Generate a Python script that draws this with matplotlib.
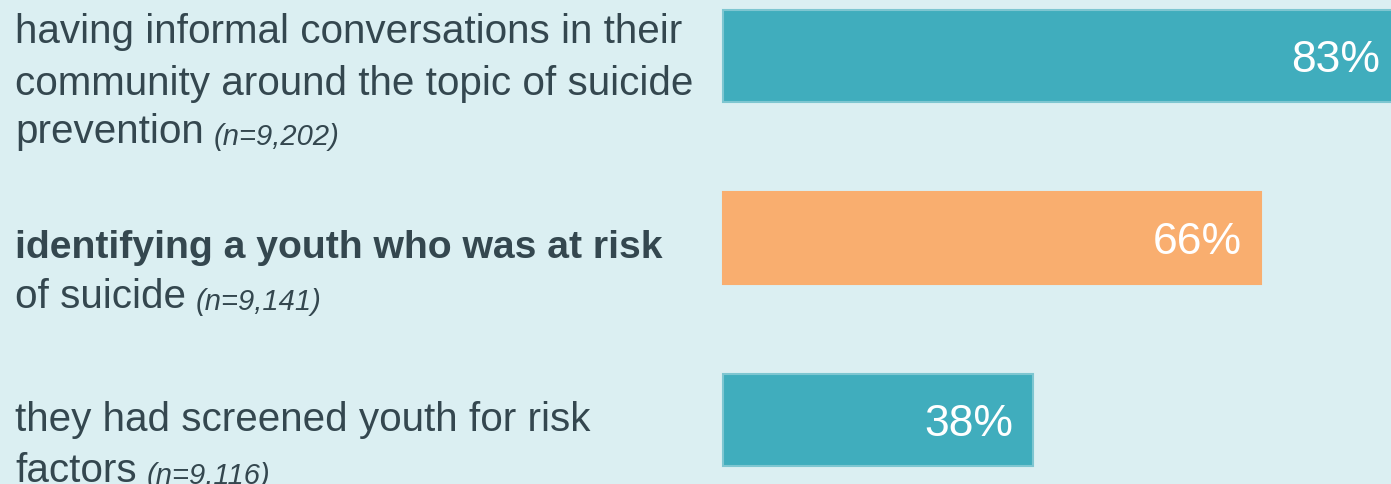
import matplotlib
matplotlib.use("Agg")
import matplotlib.pyplot as plt

# ---- data ----
categories = [
    ["having informal conversations in their",
     "community around the topic of suicide",
     "prevention"],
    ["identifying a youth who was at risk",
     "of suicide"],
    ["they had screened youth for risk",
     "factors"],
]
sample_sizes = ["(n=9,202)", "(n=9,141)", "(n=9,116)"]
values = [83, 66, 38]
value_labels = ["83%", "66%", "38%"]

# ---- style ----
BG = "#dbeff2"
TEAL = "#40adbd"
TEAL_EDGE = "#7ec6d1"
ORANGE = "#f9ae6f"
TEXT = "#34474f"
bar_colors = [TEAL, ORANGE, TEAL]
bar_edges = [TEAL_EDGE, ORANGE, TEAL_EDGE]
bold_lines = [[False, False, False], [True, False], [False, False]]
# baseline offsets (pixels below each bar centre) for every label line
line_offsets = [[-13, 39, 87], [20, 70], [11, 62]]

plt.rcParams["font.family"] = ["Liberation Sans", "DejaVu Sans"]

W, H, DPI = 1391, 484, 100
fig = plt.figure(figsize=(W / DPI, H / DPI), dpi=DPI, facecolor=BG)
ax = fig.add_axes([0, 0, 1, 1])
ax.set_facecolor(BG)

px_per_unit = 8.15          # horizontal pixels per percentage point
bar_x0 = 723                # left edge of the bars in pixels
row_px = 182                # vertical pixels between bar centres
first_center = 56
ax.set_xlim(-bar_x0 / px_per_unit, (W - bar_x0) / px_per_unit)
top = -first_center / row_px
ax.set_ylim(top + H / row_px, top)
ax.axis("off")

ypos = list(range(len(values)))
ax.barh(ypos, values, height=92 / row_px, color=bar_colors,
        edgecolor=bar_edges, linewidth=1.5, left=0)

for y, v, lab in zip(ypos, values, value_labels):
    ax.annotate(lab, xy=(v, y), xytext=(-19, -16), textcoords="offset pixels",
                ha="right", va="baseline", color="white", fontsize=32,
                annotation_clip=False)

text_x = 15 / W
for y, lines, offs, bolds, n in zip(ypos, categories, line_offsets,
                                     bold_lines, sample_sizes):
    last = None
    for line, off, b in zip(lines, offs, bolds):
        last = ax.annotate(line, xy=(text_x, y),
                           xycoords=("figure fraction", "data"),
                           xytext=(0, -off), textcoords="offset pixels",
                           ha="left", va="baseline", color=TEXT,
                           fontsize=28.2 if b else 29.1,
                           fontweight="bold" if b else "normal",
                           annotation_clip=False)
    ax.annotate(n, xy=(1, 0), xycoords=last, xytext=(10, 0),
                textcoords="offset pixels", ha="left", va="bottom",
                color=TEXT, fontsize=21, fontstyle="italic",
                annotation_clip=False)

fig.savefig("out.png", dpi=DPI, facecolor=BG)
